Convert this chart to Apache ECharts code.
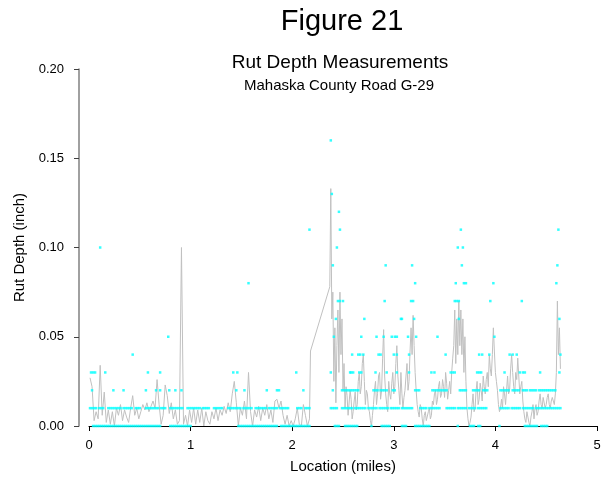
<!DOCTYPE html>
<html>
<head>
<meta charset="utf-8">
<script src="https://cdn.jsdelivr.net/npm/echarts@6/dist/echarts.min.js"></script>
<style>
html,body{margin:0;padding:0;background:#fff;}
#chart{width:604px;height:485px;}
</style>
</head>
<body>
<div id="chart"></div>
<script>
// ---- Data (miles, inches) ----
const xTicks = [0, 1, 2, 3, 4, 5];
const yTicks = [0, 0.05, 0.10, 0.15, 0.20];

// Smoothed rut depth (gray line), west part
const lineWest = [
[0.01,0.027],[0.03,0.022],[0.05,0.003],[0.07,0.008],[0.09,0.004],[0.11,0.034],[0.13,0.006],[0.15,0.019],
[0.17,0.002],[0.19,0.009],[0.21,0.001],[0.23,0.008],[0.25,0.000],[0.27,0.010],[0.29,0.006],[0.31,0.012],
[0.33,0.003],[0.35,0.009],[0.37,0.005],[0.39,0.002],[0.41,0.010],[0.43,0.017],[0.45,0.006],[0.47,0.010],
[0.49,0.004],[0.51,0.008],[0.53,0.012],[0.55,0.009],[0.57,0.013],[0.59,0.008],[0.61,0.011],[0.63,0.014],
[0.65,0.010],[0.67,0.026],[0.69,0.012],[0.71,0.001],[0.73,0.006],[0.75,0.023],[0.77,0.017],[0.79,0.007],
[0.81,0.013],[0.83,0.004],[0.85,0.009],[0.87,0.001],[0.89,0.003],[0.90,0.004],[0.91,0.100],[0.92,0.099],
[0.93,0.001],[0.95,0.006],[0.97,0.000],[0.99,0.009],[1.01,0.002],[1.03,0.010],[1.05,0.001],[1.07,0.009],
[1.09,0.002],[1.11,0.010],[1.13,0.000],[1.15,0.008],[1.17,0.003],[1.19,0.001],[1.21,0.008],[1.23,0.004],
[1.25,0.010],[1.27,0.003],[1.29,0.009],[1.31,0.006],[1.33,0.011],[1.35,0.007],[1.37,0.013],[1.39,0.008],
[1.41,0.018],[1.43,0.025],[1.45,0.013],[1.47,0.000],[1.49,0.010],[1.51,0.006],[1.53,0.014],[1.55,0.004],
[1.57,0.030],[1.59,0.008],[1.61,0.000],[1.63,0.009],[1.65,0.005],[1.67,0.011],[1.69,0.003],[1.71,0.010],
[1.73,0.006],[1.75,0.012],[1.77,0.004],[1.79,0.009],[1.81,0.002],[1.83,0.014],[1.85,0.015],[1.87,0.010],
[1.89,0.014],[1.91,0.006],[1.93,0.001],[1.95,0.006],[1.97,0.000],[1.99,0.003],[2.01,0.000],[2.03,0.004],
[2.05,0.010],[2.07,0.001],[2.09,0.000],[2.11,0.012],[2.13,0.006],[2.15,0.000],[2.17,0.004],[2.18,0.042]
];
// Smoothed rut depth (gray line), east part
const lineEast = [
[2.37,0.078],[2.38,0.133],[2.39,0.060],[2.40,0.075],[2.41,0.025],[2.42,0.055],[2.43,0.013],[2.44,0.045],
[2.45,0.065],[2.46,0.030],[2.47,0.075],[2.48,0.040],[2.49,0.060],[2.50,0.020],[2.51,0.035],[2.52,0.010],
[2.53,0.022],[2.54,0.017],[2.55,0.006],[2.56,0.005],[2.57,0.020],[2.58,0.015],[2.59,0.004],[2.60,0.008],
[2.61,0.014],[2.62,0.019],[2.63,0.009],[2.64,0.012],[2.65,0.025],[2.66,0.030],[2.67,0.018],[2.68,0.022],
[2.69,0.035],[2.70,0.040],[2.71,0.025],[2.72,0.012],[2.73,0.020],[2.74,0.018],[2.75,0.010],[2.76,0.008],
[2.77,0.003],[2.78,0.000],[2.79,0.006],[2.80,0.012],[2.81,0.020],[2.82,0.025],[2.83,0.012],[2.84,0.018],
[2.85,0.028],[2.86,0.030],[2.87,0.015],[2.88,0.020],[2.89,0.038],[2.90,0.054],[2.91,0.028],[2.92,0.018],
[2.93,0.012],[2.94,0.008],[2.95,0.025],[2.96,0.018],[2.97,0.015],[2.98,0.024],[2.99,0.030],[3.00,0.018],
[3.01,0.022],[3.02,0.035],[3.03,0.045],[3.04,0.028],[3.05,0.020],[3.06,0.012],[3.07,0.030],[3.08,0.018],
[3.09,0.010],[3.10,0.016],[3.11,0.020],[3.12,0.028],[3.13,0.035],[3.14,0.020],[3.15,0.025],[3.16,0.042],
[3.17,0.055],[3.18,0.040],[3.19,0.062],[3.20,0.045],[3.21,0.030],[3.22,0.020],[3.23,0.012],[3.24,0.008],
[3.25,0.005],[3.26,0.012],[3.27,0.010],[3.28,0.004],[3.29,0.000],[3.30,0.006],[3.31,0.008],[3.32,0.003],
[3.33,0.002],[3.34,0.008],[3.35,0.010],[3.36,0.004],[3.37,0.006],[3.38,0.014],[3.39,0.012],[3.40,0.018],
[3.41,0.020],[3.42,0.012],[3.43,0.015],[3.44,0.022],[3.45,0.025],[3.46,0.016],[3.47,0.018],[3.48,0.026],
[3.49,0.022],[3.50,0.016],[3.51,0.030],[3.52,0.024],[3.53,0.015],[3.54,0.020],[3.55,0.025],[3.56,0.018],
[3.57,0.030],[3.58,0.038],[3.59,0.045],[3.60,0.065],[3.61,0.035],[3.62,0.060],[3.63,0.040],[3.64,0.070],
[3.65,0.045],[3.66,0.065],[3.67,0.040],[3.68,0.060],[3.69,0.030],[3.70,0.050],[3.71,0.025],[3.72,0.010],
[3.73,0.004],[3.74,0.000],[3.75,0.002],[3.76,0.005],[3.77,0.012],[3.78,0.018],[3.79,0.008],[3.80,0.010],
[3.81,0.020],[3.82,0.025],[3.83,0.012],[3.84,0.015],[3.85,0.024],[3.86,0.020],[3.87,0.014],[3.88,0.028],
[3.89,0.022],[3.90,0.018],[3.91,0.026],[3.92,0.030],[3.93,0.022],[3.94,0.040],[3.95,0.032],[3.96,0.028],
[3.97,0.040],[3.98,0.055],[3.99,0.042],[4.00,0.030],[4.01,0.025],[4.02,0.020],[4.03,0.012],[4.04,0.008],
[4.05,0.010],[4.06,0.015],[4.07,0.010],[4.08,0.022],[4.09,0.018],[4.10,0.012],[4.11,0.020],[4.12,0.028],
[4.13,0.018],[4.14,0.020],[4.15,0.032],[4.16,0.040],[4.17,0.030],[4.18,0.022],[4.19,0.018],[4.20,0.030],
[4.21,0.026],[4.22,0.038],[4.23,0.028],[4.24,0.018],[4.25,0.022],[4.26,0.025],[4.27,0.014],[4.28,0.008],
[4.29,0.004],[4.30,0.002],[4.31,0.008],[4.32,0.005],[4.33,0.002],[4.34,0.000],[4.35,0.005],[4.36,0.008],
[4.37,0.012],[4.38,0.004],[4.39,0.010],[4.40,0.012],[4.41,0.006],[4.42,0.008],[4.43,0.014],[4.44,0.018],
[4.45,0.012],[4.46,0.010],[4.47,0.016],[4.48,0.015],[4.49,0.010],[4.50,0.012],[4.51,0.016],[4.52,0.018],
[4.53,0.012],[4.54,0.010],[4.55,0.014],[4.56,0.016],[4.57,0.014],[4.58,0.012],[4.59,0.018],[4.60,0.030],
[4.61,0.070],[4.62,0.040],[4.63,0.055],[4.64,0.032]
];

// Raw measurements (cyan points): locations (miles) at each depth reading
const depth000 = [0.04,0.06,0.08,0.10,0.12,0.14,0.16,0.18,0.20,0.22,0.24,0.26,0.28,0.30,0.32,0.34,0.36,0.38,0.40,0.42,0.44,0.46,0.48,0.50,0.52,0.54,0.56,0.58,0.60,0.62,0.64,0.66,0.68,0.70,
0.80,0.82,0.84,0.86,0.88,0.90,0.92,0.94,0.96,0.98,1.00,
1.47,1.49,1.51,1.53,1.55,1.57,1.59,1.61,1.63,1.65,1.67,1.69,1.71,1.73,1.75,1.77,1.79,1.81,1.83,1.85,
1.89,1.91,1.93,1.95,1.97,1.99,2.01,2.03,2.05,2.07,2.09,2.11,2.13,2.15,2.17,
2.42,2.44,2.46,2.52,2.54,2.56,2.58,2.60,2.62,2.64,2.78,2.88,2.90,2.92,2.94,2.96,3.08,3.10,3.12,
3.21,3.23,3.25,3.27,3.29,3.31,3.33,3.35,3.63,3.75,3.77,3.79,3.83,3.85,4.04,
4.29,4.31,4.33,4.35,4.37,4.39,4.41,4.45,4.47,4.49,4.51];
const depth001 = [0.01,0.03,0.05,0.07,0.10,0.12,0.14,0.19,0.21,0.23,0.25,0.27,0.29,0.31,0.34,0.36,0.38,0.40,0.42,
0.46,0.48,0.50,0.56,0.58,0.60,0.62,0.64,0.66,0.68,0.71,0.73,0.75,0.80,0.82,0.84,0.86,0.88,0.90,0.92,
0.97,0.99,1.01,1.03,1.05,1.07,1.09,1.12,1.14,1.16,1.18,1.23,1.25,1.27,1.29,1.31,
1.37,1.39,1.41,1.43,1.45,1.47,1.49,1.52,1.54,1.56,1.58,1.60,1.64,1.66,1.68,1.70,1.72,1.74,
1.77,1.79,1.81,1.83,1.85,1.88,1.90,1.92,1.94,1.96,2.05,2.07,2.09,2.13,2.15,2.17,2.38,2.40,2.42,2.44,
2.49,2.51,2.53,2.55,2.57,2.59,2.62,2.64,2.66,2.68,2.70,2.72,2.75,2.77,2.79,2.81,2.83,
2.86,2.88,2.90,2.92,2.94,2.97,2.99,3.01,3.03,3.05,3.08,3.10,3.12,3.14,3.16,3.18,
3.26,3.28,3.30,3.32,3.35,3.37,3.39,3.41,3.43,3.45,
3.52,3.54,3.56,3.58,3.60,3.63,3.65,3.67,3.69,3.71,3.74,3.76,3.78,3.80,3.83,3.85,3.87,3.89,3.91,
4.05,4.07,4.09,4.11,4.13,4.16,4.18,4.20,4.22,4.24,4.27,4.29,4.31,4.33,4.35,4.37,
4.40,4.42,4.44,4.46,4.48,4.50,4.52,4.54,4.56,4.58,4.60,4.62,4.64];
const depth002 = [0.03,0.24,0.34,0.56,0.66,0.70,0.79,0.85,0.91,1.45,1.53,1.75,1.85,1.87,2.11,2.40,
2.49,2.51,2.53,2.55,2.57,2.59,2.61,2.63,2.65,2.80,2.82,2.84,2.87,2.89,2.91,2.93,2.99,3.01,
3.21,3.23,3.25,3.38,3.40,3.42,3.44,3.46,3.48,3.50,3.52,3.65,3.67,3.69,3.71,
3.78,3.80,3.82,3.84,3.88,3.90,3.92,4.05,4.07,4.09,4.11,4.13,4.17,4.19,4.21,4.23,
4.27,4.29,4.31,4.34,4.36,4.38,4.40,4.43,4.45,4.47,4.49,4.51,4.53,4.55,4.57,4.59];
const depth003 = [0.02,0.04,0.06,0.16,0.58,0.70,1.42,1.46,2.04,2.38,2.57,2.58,2.60,2.66,2.68,2.82,2.93,3.03,3.15,
3.37,3.40,3.56,3.58,3.60,3.82,3.84,3.86,4.09,4.24,4.27,4.29,4.44,4.63];
const depth004 = [0.43,2.59,2.65,2.67,2.70,2.85,2.87,3.00,3.03,3.15,3.51,3.84,3.87,3.94,4.14,4.17,4.21,4.64];
const depth005 = [0.78,2.41,2.68,2.83,2.90,2.98,3.01,3.03,3.14,3.22,3.43,3.99];
const depth006 = [2.43,2.71,3.07,3.08,3.20,3.64,4.63];
const depth007 = [2.45,2.47,2.50,2.91,3.17,3.19,3.60,3.62,3.64,3.95,4.26];
const depth008 = [1.57,3.21,3.61,3.69,3.71,3.98,4.60];
const depth009 = [2.40,2.92,3.18,3.67,4.61];
const depth010 = [0.11,2.44,3.63,3.68];
const depth011 = [2.17,2.47,3.66,4.62];
const depth012 = [2.46];
const depth013 = [2.39];
const depth016 = [2.38];

const rawGroups = [
  [0.00, depth000],[0.01, depth001],[0.02, depth002],[0.03, depth003],[0.04, depth004],
  [0.05, depth005],[0.06, depth006],[0.07, depth007],[0.08, depth008],[0.09, depth009],
  [0.10, depth010],[0.11, depth011],[0.12, depth012],[0.13, depth013],[0.16, depth016]
];
const rawPoints = [];
rawGroups.forEach(([d, xs]) => xs.forEach(x => rawPoints.push([x, d])));
const linePoints = lineWest.concat(lineEast);

const FONT = '"Liberation Sans", Arial, Helvetica, sans-serif';
const chart = echarts.init(document.getElementById('chart'), null, {renderer: 'canvas'});
chart.setOption({
  animation: false,
  backgroundColor: '#ffffff',
  title: [
    {text: 'Figure 21', left: 337, top: 2, textAlign: 'center',
     textStyle: {fontSize: 29, fontWeight: 'normal', color: '#000', fontFamily: FONT}},
    {text: 'Rut Depth Measurements', left: 335, top: 48, textAlign: 'center',
     textStyle: {fontSize: 19, fontWeight: 'normal', color: '#000', fontFamily: FONT}},
    {text: 'Mahaska County Road G-29', left: 334, top: 73, textAlign: 'center',
     textStyle: {fontSize: 15, fontWeight: 'normal', color: '#000', fontFamily: FONT}}
  ],
  grid: {left: 89, right: 7, top: 69, bottom: 59, containLabel: false},
  xAxis: {
    type: 'value', min: xTicks[0], max: xTicks[xTicks.length - 1], interval: 1,
    name: 'Location (miles)', nameLocation: 'middle', nameGap: 33,
    nameTextStyle: {fontSize: 15, color: '#000', fontFamily: FONT},
    axisLine: {show: true, onZero: false, lineStyle: {color: '#000', width: 1}},
    axisTick: {show: true, inside: false, length: 5, lineStyle: {color: '#000'}},
    axisLabel: {fontSize: 13, color: '#000', margin: 13, fontFamily: FONT},
    splitLine: {show: false}
  },
  yAxis: {
    type: 'value', min: yTicks[0], max: yTicks[yTicks.length - 1], interval: 0.05,
    offset: 10,
    name: 'Rut Depth (inch)', nameLocation: 'middle', nameGap: 52, nameRotate: 90,
    nameTextStyle: {fontSize: 15, color: '#000', fontFamily: FONT},
    axisLine: {show: true, onZero: false, lineStyle: {color: '#808080', width: 1.5}},
    axisTick: {show: true, inside: false, length: 5, lineStyle: {color: '#404040'}},
    axisLabel: {fontSize: 13, color: '#000', margin: 15, fontFamily: FONT,
      formatter: v => v.toFixed(2)},
    splitLine: {show: false}
  },
  series: [
    {type: 'line', data: linePoints, showSymbol: false, symbol: 'none',
     lineStyle: {color: '#C0C0C0', width: 1}, z: 2, silent: true},
    {type: 'scatter', data: rawPoints, symbol: 'rect', symbolSize: 2.5,
     itemStyle: {color: '#00FFFF'}, z: 3, silent: true}
  ]
});
</script>
</body>
</html>
